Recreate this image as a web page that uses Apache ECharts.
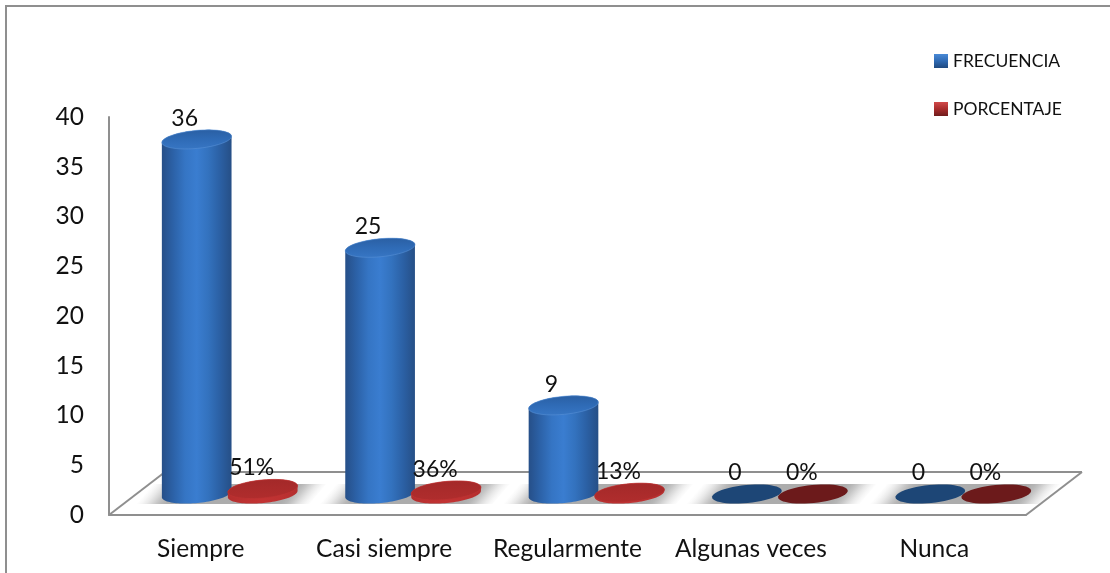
<!DOCTYPE html>
<html>
<head>
<meta charset="utf-8">
<style>html,body{margin:0;padding:0;background:#fff}#chart{width:1110px;height:573px}</style>
<script src="https://cdn.jsdelivr.net/npm/echarts@6/dist/echarts.min.js"></script>
</head>
<body>
<div id="chart"></div>
<script>
// Survey answers: how often each option was chosen, as a count and as a share.
const categories = ['Siempre', 'Casi siempre', 'Regularmente', 'Algunas veces', 'Nunca'];
const frecuencia = [36, 25, 9, 0, 0];
const porcentaje = [0.51, 0.36, 0.13, 0, 0];
const yTicks = { min: 0, max: 40, interval: 5 };

const FONT = 'Lato, "Open Sans", sans-serif';
const GREY = '#8f8f8f';
const RX = 35, RY = 9, TILT = -5.5 * Math.PI / 180;
const BLUE_SHIFT = -34, RED_SHIFT = 32;
const FLOOR_DEPTH_X = 56, FLOOR_DEPTH_Y = 43;

const hGrad = (stops) => new echarts.graphic.LinearGradient(0, 0, 1, 0,
  stops.map((c, i) => ({ offset: i / (stops.length - 1), color: c })));
const vGrad = (stops) => new echarts.graphic.LinearGradient(0, 0, 0, 1,
  stops.map((c, i) => ({ offset: i / (stops.length - 1), color: c })));

// A point on an ellipse that is slightly rotated, as the floor is seen in perspective.
function ellipsePoint(cx, cy, t) {
  const x = RX * Math.cos(t), y = RY * Math.sin(t);
  return [cx + x * Math.cos(TILT) - y * Math.sin(TILT), cy + x * Math.sin(TILT) + y * Math.cos(TILT)];
}
function ellipseArc(cx, cy, from, to) {
  const pts = [];
  for (let i = 0; i <= 48; i++) pts.push(ellipsePoint(cx, cy, from + (to - from) * i / 48));
  return pts;
}

const palettes = {
  blue: {
    side: ['#264f88', '#2c62a8', '#3575c4', '#3a7dd0', '#3372be', '#2b60a4', '#264f86'],
    top: vGrad(['#2a5fa3', '#2f6bb6', '#3776c4']),
    rim: 'rgba(90,145,215,0.55)',
    flat: '#1d4676',
    label: v => String(v)
  },
  red: {
    side: ['#b42e2e', '#bd3131', '#c23333', '#bd3131', '#b42e2e'],
    top: vGrad(['#a32929', '#aa2b2b', '#b02d2d']),
    rim: 'rgba(190,50,50,0.7)',
    flat: '#6c1a1b',
    label: v => Math.round(v * 100) + '%'
  }
};

// Cylinder for one value, positioned through the value axis.
function cylinder(palette, shift) {
  return function (params, api) {
    const value = api.value(1);
    const base = api.coord([api.value(0), 0]);
    const top = api.coord([api.value(0), value]);
    const cx = base[0] + shift;
    const children = [];
    if (value > 0) {
      const body = ellipseArc(cx, base[1], Math.PI, 0).concat(ellipseArc(cx, top[1], 0, -Math.PI));
      children.push({ type: 'polygon', shape: { points: body }, style: { fill: hGrad(palette.side) } });
    }
    children.push({
      type: 'polygon',
      shape: { points: ellipseArc(cx, top[1], 0, Math.PI * 2) },
      style: value > 0
        ? { fill: palette.top, stroke: palette.rim, lineWidth: 1 }
        : { fill: palette.flat }
    });
    children.push({
      type: 'text',
      style: {
        x: cx - 12 - (shift > 0 ? -1 : 0), y: top[1] - 21, text: palette.label(value),
        font: '23px ' + FONT, fill: '#111', align: 'center', verticalAlign: 'middle'
      }
    });
    return { type: 'group', children };
  };
}

// Soft shadow under a category: its fade follows the slant of the floor edges.
function shadowFill(L, R, cy) {
  const nx = 0.762, ny = 0.648;
  const ax = L + 5.5, w = (R - L - 9) * nx;
  const alpha = [0, 0.1, 0.25, 0.45, 0.68, 0.86, 0.96, 1];
  const n = alpha.length - 1, reach = 0.2;
  const fade = alpha.map((a, k) => ({ offset: reach * k / n, color: 'rgba(172,172,172,' + a + ')' }));
  const stops = fade.concat(fade.map(s => ({ offset: 1 - s.offset, color: s.color })).reverse());
  return new echarts.graphic.LinearGradient(ax, cy, ax + w * nx, cy + w * ny, stops, true);
}

// Floor of the plot: outline once, and the shadow band below each category.
function floor(params, api) {
  const i = api.value(0);
  const c = api.coord([i, 0]);
  const band = params.coordSys.width / categories.length;
  const y0 = c[1] - 10, y1 = c[1] + 10;
  const L = c[0] - band / 2, R = c[0] + band / 2;
  const children = [{
    type: 'polygon',
    shape: { points: [[L + 14, y0], [R + 4, y0], [R - 13, y1], [L - 3, y1]] },
    style: { fill: shadowFill(L, R, c[1]) }
  }];
  if (i === 0) {
    const fx0 = params.coordSys.x - 30, fx1 = fx0 + params.coordSys.width, fy = c[1] + 21;
    const line = (a, b) => ({
      type: 'line', shape: { x1: a[0], y1: a[1], x2: b[0], y2: b[1] },
      style: { stroke: GREY, lineWidth: 2 }
    });
    children.unshift(
      line([fx0, fy], [fx0 + FLOOR_DEPTH_X, fy - FLOOR_DEPTH_Y]),
      line([fx0 + FLOOR_DEPTH_X, fy - FLOOR_DEPTH_Y], [fx1 + FLOOR_DEPTH_X, fy - FLOOR_DEPTH_Y]),
      line([fx1 + FLOOR_DEPTH_X, fy - FLOOR_DEPTH_Y], [fx1, fy])
    );
  }
  return { type: 'group', children };
}

const chart = echarts.init(document.getElementById('chart'), null, { renderer: 'canvas' });
chart.setOption({
  animation: false,
  backgroundColor: '#fff',
  graphic: [{
    type: 'rect', silent: true, z: 0,
    shape: { x: 6, y: 6, width: 1200, height: 700 },
    style: { fill: 'none', stroke: GREY, lineWidth: 2 }
  }],
  legend: {
    orient: 'vertical', left: 929, top: 47, itemWidth: 14, itemHeight: 14, itemGap: 30,
    textStyle: { fontFamily: FONT, fontSize: 17.5, color: '#111' },
    data: [
      { name: 'FRECUENCIA', icon: 'rect', itemStyle: { color: vGrad(['#4a8ad6', '#2f6ab4', '#1f4a80']) } },
      { name: 'PORCENTAJE', icon: 'rect', itemStyle: { color: vGrad(['#d14a4a', '#a82c2c', '#6f1c1c']) } }
    ]
  },
  grid: [
    { left: 109, top: 117, width: 917, height: 398 },
    { left: 139, top: 100, width: 917, height: 394 }
  ],
  xAxis: [
    {
      type: 'category', gridIndex: 0, data: categories,
      axisLine: { lineStyle: { color: GREY, width: 2 } },
      axisTick: { show: false },
      axisLabel: { interval: 0, fontFamily: FONT, fontSize: 24.5, color: '#111', margin: 22 }
    },
    { type: 'category', gridIndex: 1, data: categories, show: false }
  ],
  yAxis: [
    {
      type: 'value', gridIndex: 0, min: yTicks.min, max: yTicks.max, interval: yTicks.interval,
      axisLine: { show: true, lineStyle: { color: GREY, width: 2 } },
      axisTick: { show: false },
      splitLine: { show: false },
      axisLabel: { fontFamily: FONT, fontSize: 24.5, color: '#111', margin: 25 }
    },
    { type: 'value', gridIndex: 1, min: yTicks.min, max: yTicks.max, interval: yTicks.interval, show: false }
  ],
  series: [
    {
      type: 'custom', name: 'floor', xAxisIndex: 1, yAxisIndex: 1, silent: true, z: 1, clip: false,
      data: categories.map((c, i) => [i, 0]), renderItem: floor
    },
    {
      type: 'custom', name: 'FRECUENCIA', xAxisIndex: 1, yAxisIndex: 1, z: 3, clip: false,
      data: frecuencia.map((v, i) => [i, v]), renderItem: cylinder(palettes.blue, BLUE_SHIFT),
      itemStyle: { color: '#2f6ab4' }
    },
    {
      type: 'custom', name: 'PORCENTAJE', xAxisIndex: 1, yAxisIndex: 1, z: 4, clip: false,
      data: porcentaje.map((v, i) => [i, v]), renderItem: cylinder(palettes.red, RED_SHIFT),
      itemStyle: { color: '#a82c2c' }
    }
  ]
});
</script>
</body>
</html>
